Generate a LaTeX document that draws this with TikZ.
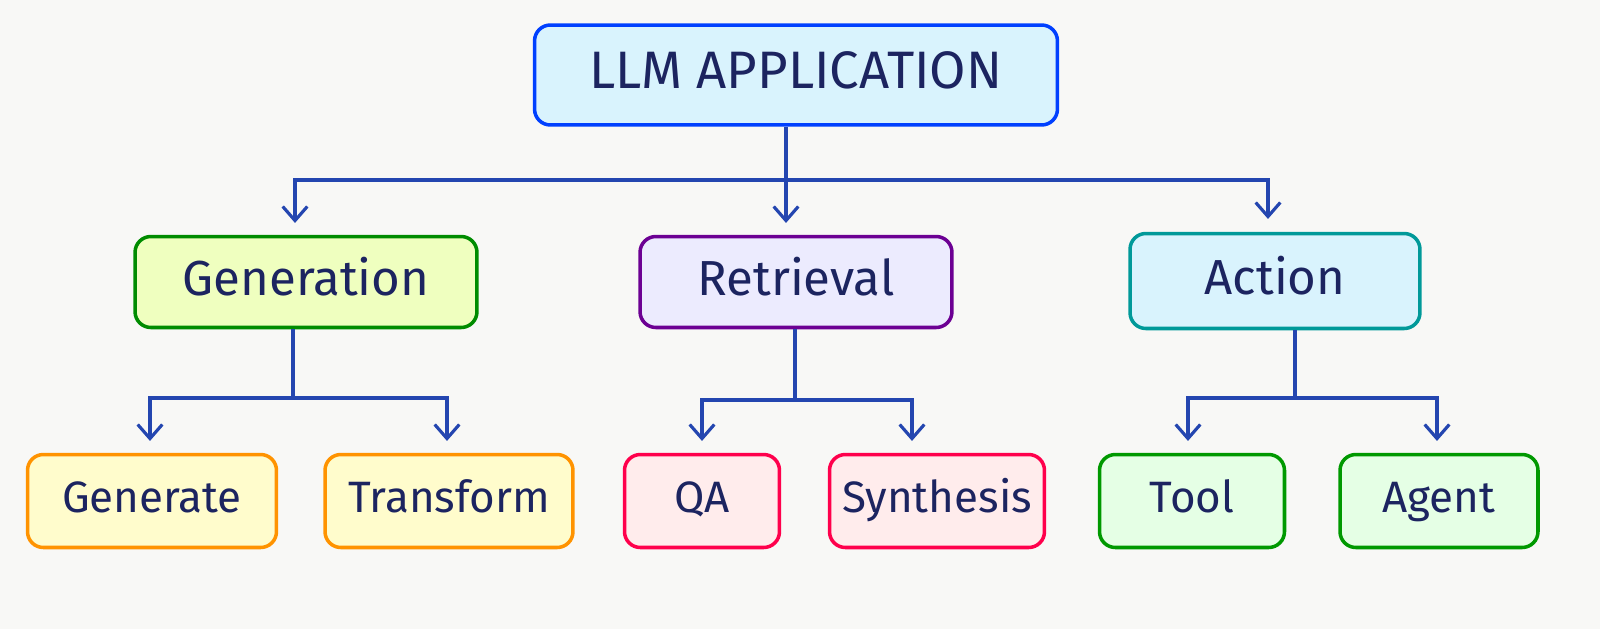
\documentclass[tikz,border=0pt]{standalone}
\usepackage{fontspec}
\setmainfont{Fira Sans}
\usetikzlibrary{arrows.meta}
\definecolor{bg}{HTML}{F8F8F6}
\definecolor{ink}{HTML}{1C2460}
\definecolor{wire}{HTML}{2446B0}
\tikzset{
 box/.style={draw, line width=2pt, rounded corners=9pt, text=ink, align=center, inner sep=0pt, text height=21pt, text depth=6pt},
 wire/.style={draw=wire, line width=1.8pt},
 arr/.style={wire, -{Straight Barb[length=8pt,width=14pt]}, shorten >=8pt},
}
\begin{document}
\begin{tikzpicture}[x=0.02cm,y=-0.02cm]
\useasboundingbox (0,0) rectangle (1600,629);
\fill[bg] (0,0) rectangle (1600,629);
\node[box, draw=blue!75!cyan, fill=cyan!15, minimum width=10.46cm, minimum height=2cm, font=\fontsize{30}{34}\selectfont] (top) at (796,75) {LLM APPLICATION};
\node[box, draw=green!55!black, fill=lime!25, minimum width=6.84cm, minimum height=1.82cm, font=\fontsize{28}{32}\selectfont] (gen) at (306,282) {Generation};
\node[box, draw=violet!85!blue, fill=violet!12!blue!8, minimum width=6.24cm, minimum height=1.82cm, font=\fontsize{28}{32}\selectfont] (ret) at (796,282) {Retrieval};
\node[box, draw=teal!80!cyan, fill=cyan!15, minimum width=5.8cm, minimum height=1.9cm, font=\fontsize{28}{32}\selectfont] (act) at (1275,281) {Action};
\begin{scope}[every node/.style={box, minimum height=1.86cm, text height=18pt, text depth=5pt, font=\fontsize{25}{29}\selectfont}]
\node[draw=orange!85!yellow, fill=yellow!20, minimum width=4.98cm] (g1) at (152,501) {Generate};
\node[draw=orange!85!yellow, fill=yellow!20, minimum width=4.96cm] (g2) at (449,501) {Transform};
\node[draw=red!70!magenta, fill=pink!30, minimum width=3.1cm] (r1) at (702,501) {QA};
\node[draw=red!70!magenta, fill=pink!30, minimum width=4.3cm] (r2) at (937,501) {Synthesis};
\node[draw=green!60!black, fill=green!10, minimum width=3.7cm] (a1) at (1192,501) {Tool};
\node[draw=green!60!black, fill=green!10, minimum width=3.96cm] (a2) at (1439,501) {Agent};
\end{scope}
\coordinate (j0) at (786,180);
\coordinate (j1) at (293,398);
\coordinate (j2) at (795,400);
\coordinate (j3) at (1295,398);
\draw[wire] (top.south -| j0) -- (j0);
\draw[arr] (j0) -| (295,237);
\draw[arr] (j0) -- (786,237);
\draw[arr] (j0) -| (1268,233);
\draw[wire] (gen.south -| j1) -- (j1);
\draw[arr] (j1) -| (150,455);
\draw[arr] (j1) -| (447,455);
\draw[wire] (ret.south -| j2) -- (j2);
\draw[arr] (j2) -| (702,455);
\draw[arr] (j2) -| (912,455);
\draw[wire] (act.south -| j3) -- (j3);
\draw[arr] (j3) -| (1188,455);
\draw[arr] (j3) -| (1437,455);
\end{tikzpicture}
\end{document}
